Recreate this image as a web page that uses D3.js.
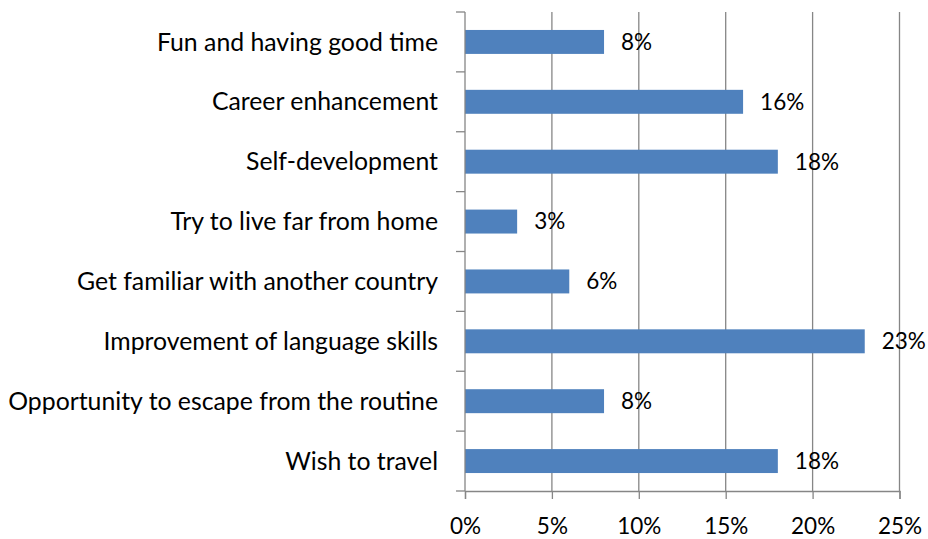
<!DOCTYPE html>
<html>
<head>
<meta charset="utf-8">
<script src="https://cdn.jsdelivr.net/npm/d3@7"></script>
<style>
  html, body { margin: 0; padding: 0; background: #fff; }
  svg { display: block; }
  text { font-family: Lato, "Open Sans", sans-serif; fill: #000; }
</style>
</head>
<body>
<svg id="chart" width="928" height="539"></svg>
<script>
// Reasons for going abroad, top to bottom
const categories = [
  "Fun and having good time",
  "Career enhancement",
  "Self-development",
  "Try to live far from home",
  "Get familiar with another country",
  "Improvement of language skills",
  "Opportunity to escape from the routine",
  "Wish to travel"
];
const values = [8, 16, 18, 3, 6, 23, 8, 18];
const xTicks = [0, 5, 10, 15, 20, 25];

const W = 928, H = 539;
const margin = { top: 12, right: 28.5, bottom: 48, left: 465 };
const svg = d3.select("#chart");

const x = d3.scaleLinear().domain([0, 25]).range([margin.left, W - margin.right]);
const y = d3.scaleBand().domain(categories).range([margin.top, H - margin.bottom]).paddingInner(0.6).paddingOuter(0.3);

const gridColor = "#868686";
const labelSize = 24.8;   // category names
const numSize = 22.5;     // percentages

// vertical gridlines
svg.append("g").selectAll("line").data(xTicks.filter(d => d > 0)).join("line")
  .attr("x1", d => x(d)).attr("x2", d => x(d))
  .attr("y1", margin.top).attr("y2", H - margin.bottom)
  .attr("stroke", gridColor).attr("stroke-width", 1.3);

// bars
svg.append("g").selectAll("rect").data(categories).join("rect")
  .attr("x", x(0))
  .attr("y", d => y(d))
  .attr("width", (d, i) => x(values[i]) - x(0))
  .attr("height", y.bandwidth())
  .attr("fill", "#4F81BD");

// x axis (bottom)
const xAxis = d3.axisBottom(x).tickValues(xTicks).tickFormat(d => d + "%").tickSize(8).tickPadding(19);
const gx = svg.append("g").attr("transform", `translate(0,${H - margin.bottom})`).call(xAxis);
gx.select(".domain").attr("stroke", gridColor).attr("stroke-width", 1.3);
gx.selectAll(".tick line").attr("stroke", gridColor).attr("stroke-width", 1.3);
gx.selectAll(".tick text").attr("font-size", numSize).attr("font-family", "Lato, sans-serif").attr("fill", "#000");

// y axis (left) with ticks between categories
const gy = svg.append("g").attr("transform", `translate(${margin.left},0)`);
gy.append("line")
  .attr("x1", 0).attr("x2", 0)
  .attr("y1", margin.top).attr("y2", H - margin.bottom)
  .attr("stroke", gridColor).attr("stroke-width", 1.3);
const boundaries = d3.range(categories.length + 1).map(i => margin.top + i * (H - margin.top - margin.bottom) / categories.length);
gy.selectAll("line.tk").data(boundaries).join("line").attr("class", "tk")
  .attr("x1", -9).attr("x2", 0)
  .attr("y1", d => d).attr("y2", d => d)
  .attr("stroke", gridColor).attr("stroke-width", 1.3);
gy.selectAll("text").data(categories).join("text")
  .attr("x", -27)
  .attr("y", d => y(d) + y.bandwidth() / 2)
  .attr("dy", "0.35em")
  .attr("text-anchor", "end")
  .attr("font-size", labelSize)
  .text(d => d);

// value labels
svg.append("g").selectAll("text").data(categories).join("text")
  .attr("x", (d, i) => x(values[i]) + 17)
  .attr("y", d => y(d) + y.bandwidth() / 2)
  .attr("dy", "0.35em")
  .attr("font-size", numSize)
  .text((d, i) => values[i] + "%");
</script>
</body>
</html>
